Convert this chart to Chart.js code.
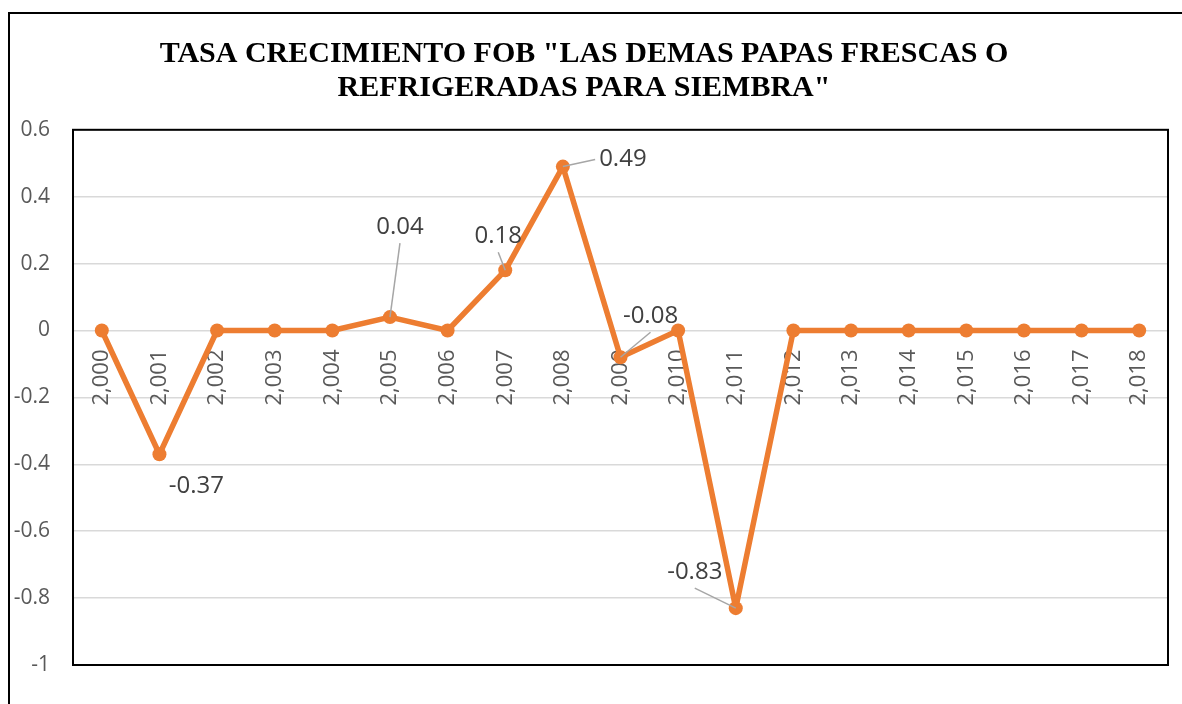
<!DOCTYPE html>
<html>
<head>
<meta charset="utf-8">
<script src="https://cdn.jsdelivr.net/npm/chart.js@4.4.1/dist/chart.umd.min.js"></script>
<style>
  html, body { margin: 0; padding: 0; background: #fff; }
  #wrap { position: relative; width: 1182px; height: 704px; overflow: hidden; }
  #frame { position: absolute; left: 8px; top: 12px; width: 1300px; height: 800px; border: 2px solid #000; box-sizing: border-box; }
  #chart { position: absolute; left: 0; top: 0; }
</style>
</head>
<body>
<div id="wrap">
  <div id="frame"></div>
  <canvas id="chart" width="1182" height="704"></canvas>
</div>
<script>
// Données du graphique
const categories = ['2,000', '2,001', '2,002', '2,003', '2,004', '2,005', '2,006', '2,007', '2,008', '2,009',
  '2,010', '2,011', '2,012', '2,013', '2,014', '2,015', '2,016', '2,017', '2,018'];
const tasaFob = [0, -0.37, 0, 0, 0, 0.04, 0, 0.18, 0.49, -0.08, 0, -0.83, 0, 0, 0, 0, 0, 0, 0];
const yTicks = [0.6, 0.4, 0.2, 0, -0.2, -0.4, -0.6, -0.8, -1];
const titleLines = ['TASA CRECIMIENTO FOB "LAS DEMAS PAPAS FRESCAS O', 'REFRIGERADAS PARA SIEMBRA"'];

// Décalage des étiquettes de données (par rapport au point)
const labelOffsets = {
  1: { dx: 37, dy: 32, leader: false },
  5: { dx: 10, dy: -90, leader: true },
  7: { dx: -7, dy: -34, leader: true },
  8: { dx: 60, dy: -7, leader: true },
  9: { dx: 30, dy: -41, leader: true },
  11: { dx: -41, dy: -36, leader: true }
};

const ORANGE = '#ED7D31';

// Plugin : cadre de la zone de tracé
const plotFramePlugin = {
  id: 'plotFrame',
  afterDraw(chart) {
    const { ctx, chartArea } = chart;
    ctx.save();
    ctx.strokeStyle = '#000';
    ctx.lineWidth = 2;
    ctx.strokeRect(chartArea.left, chartArea.top, chartArea.right - chartArea.left, chartArea.bottom - chartArea.top);
    ctx.restore();
  }
};

// Plugin : étiquettes de données avec lignes de rappel
const dataLabelPlugin = {
  id: 'dataLabels',
  afterDatasetsDraw(chart) {
    const { ctx } = chart;
    const meta = chart.getDatasetMeta(0);
    ctx.save();
    ctx.font = '24px "Open Sans", sans-serif';
    ctx.textAlign = 'center';
    ctx.textBaseline = 'middle';
    Object.keys(labelOffsets).forEach(key => {
      const i = Number(key);
      const pt = meta.data[i];
      const off = labelOffsets[key];
      const text = String(tasaFob[i]);
      const cx = pt.x + off.dx;
      const cy = pt.y + off.dy;
      if (off.leader) {
        const w = ctx.measureText(text).width / 2 + 4;
        const h = 16;
        let sx, sy;
        if (Math.abs(pt.y - cy) > h + 4) {
          // depuis le milieu du bord haut/bas
          sx = cx;
          sy = pt.y > cy ? cy + h : cy - h;
        } else {
          // depuis le bord gauche/droit
          sx = pt.x < cx ? cx - w : cx + w;
          sy = cy;
        }
        ctx.strokeStyle = '#A6A6A6';
        ctx.lineWidth = 1.5;
        ctx.beginPath();
        ctx.moveTo(sx, sy);
        ctx.lineTo(pt.x, pt.y);
        ctx.stroke();
      }
      ctx.fillStyle = '#404040';
      ctx.fillText(text, cx, cy);
    });
    ctx.restore();
  }
};

new Chart(document.getElementById('chart'), {
  type: 'line',
  data: {
    labels: categories,
    datasets: [{
      data: tasaFob,
      borderColor: ORANGE,
      backgroundColor: ORANGE,
      borderWidth: 5.5,
      borderJoinStyle: 'round',
      pointRadius: 7,
      pointBackgroundColor: ORANGE,
      pointBorderWidth: 0,
      tension: 0
    }]
  },
  options: {
    responsive: false,
    animation: false,
    devicePixelRatio: 1,
    layout: { padding: { top: 0, right: 14, bottom: 39, left: 0 } },
    plugins: {
      legend: { display: false },
      tooltip: { enabled: false },
      title: {
        display: true,
        text: titleLines,
        color: '#000',
        font: { family: '"Liberation Serif", "Times New Roman", serif', size: 30, weight: 'bold', lineHeight: 1.13 },
        padding: { top: 37, bottom: 25 }
      }
    },
    scales: {
      x: {
        position: { y: 0 },
        offset: true,
        grid: { display: false },
        border: { display: false },
        ticks: {
          color: '#595959',
          font: { family: '"Open Sans", sans-serif', size: 22 },
          minRotation: 90,
          maxRotation: 90,
          padding: 11,
          autoSkip: false
        }
      },
      y: {
        min: -1,
        max: 0.6,
        afterFit: (scale) => { scale.width = 73; },
        afterBuildTicks: (scale) => { scale.ticks = yTicks.map(v => ({ value: v })); },
        grid: { color: '#D9D9D9', lineWidth: 1.5, drawTicks: false },
        border: { display: false },
        ticks: {
          color: '#595959',
          font: { family: '"Open Sans", sans-serif', size: 21 },
          padding: 23,
          callback: (v) => String(Math.round(v * 10) / 10)
        }
      }
    }
  },
  plugins: [plotFramePlugin, dataLabelPlugin]
});
</script>
</body>
</html>
